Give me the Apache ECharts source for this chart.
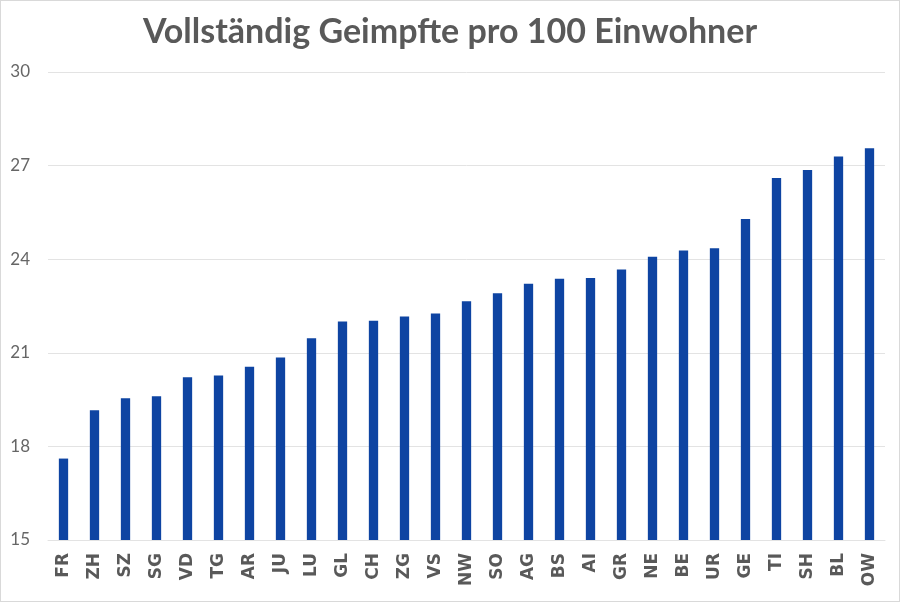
<!DOCTYPE html>
<html>
<head>
<meta charset="utf-8">
<script src="https://cdn.jsdelivr.net/npm/echarts@6/dist/echarts.min.js"></script>
<style>
html,body{margin:0;padding:0;background:#fff;}
#c{width:900px;height:602px;box-sizing:border-box;border:1px solid #d9d9d9;}
</style>
</head>
<body>
<div id="c"></div>
<script>
const titleText = 'Vollständig Geimpfte pro 100 Einwohner';
const cantons = ['FR','ZH','SZ','SG','VD','TG','AR','JU','LU','GL','CH','ZG','VS','NW','SO','AG','BS','AI','GR','NE','BE','UR','GE','TI','SH','BL','OW'];
const values = [17.61,19.16,19.54,19.61,20.22,20.27,20.55,20.85,21.47,22.0,22.03,22.16,22.26,22.65,22.91,23.21,23.37,23.40,23.67,24.08,24.28,24.35,25.29,26.60,26.86,27.29,27.56];

const chart = echarts.init(document.getElementById('c'), null, {renderer:'canvas'});
chart.setOption({
  animation:false,
  backgroundColor:'#fff',
  title:{
    text:titleText,
    left:'center',
    top:9,
    textStyle:{fontFamily:'Lato',fontWeight:'bold',fontSize:34,color:'#595959'}
  },
  grid:{left:47,right:14,top:71,bottom:61,containLabel:false},
  xAxis:{
    type:'category',
    data:cantons,
    axisLine:{show:true,lineStyle:{color:'#e3e3e3',width:1}},
    axisTick:{show:false},
    axisLabel:{rotate:90,interval:0,margin:13,fontFamily:'DejaVu Sans',fontWeight:'bold',fontSize:17,color:'#595959'}
  },
  yAxis:{
    type:'value',
    min:15,max:30,interval:3,
    axisLine:{show:false},
    axisTick:{show:false},
    splitLine:{lineStyle:{color:'#e3e3e3',width:1}},
    axisLabel:{margin:18,fontFamily:'Lato',fontSize:17,color:'#666666'}
  },
  series:[{
    type:'bar',
    data:values,
    barWidth:'30%',
    itemStyle:{color:'#0E44A2'}
  }]
});
</script>
</body>
</html>
